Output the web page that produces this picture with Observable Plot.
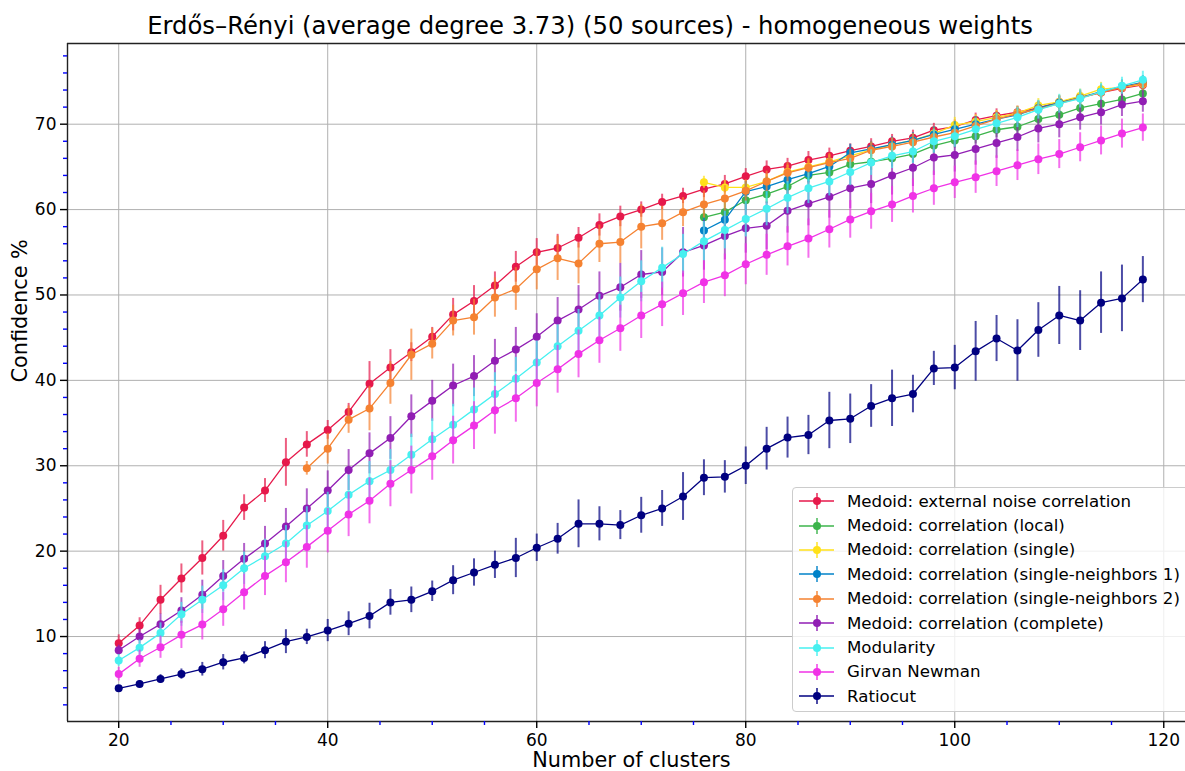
<!DOCTYPE html>
<html><head><meta charset="utf-8">
<script src="https://cdn.jsdelivr.net/npm/d3@7"></script>
<script src="https://cdn.jsdelivr.net/npm/@observablehq/plot@0.6"></script>
<style>
body{margin:0;background:#fff;font-family:"DejaVu Sans",sans-serif;}
#wrap{position:relative;width:1185px;height:771px;overflow:hidden;background:#fff;}
#title{height:41px;width:1180px;text-align:center;font-size:24.3px;line-height:1;padding-top:0;box-sizing:border-box;}
#title span{display:inline-block;margin-top:14px;}
#chart svg{display:block;}
#legend{position:absolute;left:792px;top:487px;width:420px;height:225px;box-sizing:border-box;background:rgba(255,255,255,0.8);border:1px solid #cccccc;border-radius:4px;padding-top:1px;}
.row{display:flex;align-items:center;height:24.4px;font-size:16.65px;color:#000;white-space:nowrap;}
.row svg{flex:none;}
</style></head><body>
<div id="wrap">
<div id="title"><span>Erdős–Rényi (average degree 3.73) (50 sources) - homogeneous weights</span></div>
<div id="chart"></div>
<div id="legend"></div>
</div>
<script>
// ---- x values ----
const xAll = [20,22,24,26,28,30,32,34,36,38,40,42,44,46,48,50,52,54,56,58,60,62,64,66,68,70,72,74,76,78,80,82,84,86,88,90,92,94,96,98,100,102,104,106,108,110,112,114,116,118];
const xFrom38 = [38,40,42,44,46,48,50,52,54,56,58,60,62,64,66,68,70,72,74,76,78,80,82,84,86,88,90,92,94,96,98,100,102,104,106,108,110,112,114,116,118];
const xFrom76 = [76,78,80,82,84,86,88,90,92,94,96,98,100,102,104,106,108,110,112,114,116,118];

// ---- series names & colours ----
const seriesNames = [
  "Medoid: external noise correlation",
  "Medoid: correlation (local)",
  "Medoid: correlation (single)",
  "Medoid: correlation (single-neighbors 1)",
  "Medoid: correlation (single-neighbors 2)",
  "Medoid: correlation (complete)",
  "Modularity",
  "Girvan Newman",
  "Ratiocut"
];
const seriesColors = ["#e6194b","#3cb44b","#ffe119","#0082c8","#f58231","#911eb4","#46f0f0","#f032e6","#000080"];

// ---- values (mean) ----
const externalNoise = [9.2,11.3,14.3,16.8,19.2,21.8,25.1,27.1,30.4,32.5, 34.2,36.3,39.6,41.5,43.3,45.1,47.7,49.3,51.1,53.3, 55.0,55.5,56.7,58.2,59.2,60.0,60.9,61.6,62.4,63.0, 63.9,64.7,65.1,65.8,66.3,66.9,67.4,68.0,68.4,69.3, 69.7,70.5,71.0,71.4,71.9,72.6,73.1,73.7,74.2,74.6];
const corrLocal = [59.1,59.7,61.1,61.8,62.7,64.0,64.35,65.3,65.6,66.0,66.5,67.5,68.1,68.6,69.35,69.7,70.6,71.1,71.9,72.4,72.9,73.6];
const corrSingle = [63.2,62.6,62.6,63.3,64.4,65.0,65.6,66.3,67.0,67.6,68.1,68.9,69.9,70.3,70.8,71.3,72.2,72.6,73.3,74.1,74.3,74.7];
const corrSN1 = [57.55,58.8,62.1,62.7,63.5,64.2,65.05,66.65,67.1,67.6,68.1,68.8,69.4,70.0,70.6,71.1,71.9,72.5,73.1,73.8,74.4,74.9];
const corrSN2 = [29.7,32.0,35.4,36.7,39.7,43.0,44.3,47.0,47.4,49.7, 50.7,53.0,54.3,53.7,56.0,56.2,58.0,58.4,59.7,60.6, 61.3,62.2,63.3,64.3,64.9,65.5,66.0,66.95,67.4,67.9, 68.5,69.0,69.8,70.6,71.2,71.8,72.4,73.1,73.7,74.3,74.8];
const corrComplete = [8.4,10.0,11.45,13.05,14.9,17.1,19.1,20.9,22.9,25.0, 27.1,29.5,31.45,33.25,35.8,37.6,39.4,40.5,42.3,43.6, 45.1,47.0,48.3,49.9,50.9,52.4,52.7,55.0,55.8,56.9, 57.8,58.1,59.85,60.7,61.5,62.5,63.0,64.0,64.9,66.1, 66.4,67.1,67.8,68.5,69.5,70.0,70.8,71.4,72.3,72.7];
const modularity = [7.2,8.7,10.4,12.6,14.3,16.0,18.0,19.4,20.9,23.0, 24.7,26.6,28.2,29.5,31.3,33.1,34.8,36.6,38.4,40.2, 42.1,44.0,45.8,47.6,49.7,51.6,53.2,54.8,56.3,57.6, 58.9,60.1,61.4,62.5,63.3,64.4,65.5,66.3,66.8,68.0, 68.6,69.4,70.1,70.8,71.7,72.4,73.0,73.8,74.5,75.2];
const girvanNewman = [5.6,7.4,8.75,10.2,11.4,13.2,15.2,17.1,18.7,20.5, 22.4,24.3,25.9,27.9,29.5,31.1,33.0,34.7,36.5,37.9, 39.7,41.3,43.1,44.7,46.1,47.6,48.9,50.2,51.5,52.3, 53.6,54.7,55.7,56.6,57.7,58.85,59.8,60.6,61.6,62.5, 63.2,63.8,64.5,65.2,65.9,66.5,67.3,68.1,68.9,69.6];
const ratiocut = [3.94,4.45,5.04,5.6,6.17,6.99,7.5,8.4,9.4,9.96, 10.7,11.5,12.4,14.0,14.3,15.3,16.6,17.5,18.4,19.2, 20.4,21.45,23.2,23.2,23.05,24.2,25.0,26.4,28.6,28.7, 30.0,32.0,33.3,33.6,35.3,35.5,37.0,37.9,38.4,41.4, 41.5,43.4,44.9,43.5,45.9,47.6,47.0,49.1,49.6,51.8];

// ---- error half-widths ----
const externalNoiseErr = [1.0,0.9,1.7,1.7,2.0,1.8,1.5,1.4,2.8,1.5, 1.1,1.0,2.6,2.1,1.1,1.1,1.9,1.8,1.6,1.8, 1.6,1.6,1.2,1.3,1.2,0.9,0.9,0.9,1.0,1.0, 0.9,1.0,0.9,1.0,0.9,0.8,0.9,0.8,0.9,0.8, 0.8,0.8,0.8,0.7,0.7,0.7,0.7,0.7,0.7,0.7];
const corrLocalErr = [1.3,1.2,1.2,1.1,1.1,1.0,1.0,1.0,1.0,1.0,1.0,0.9,0.9,0.9,0.9,0.9,0.8,0.8,0.8,0.8,0.8,0.8];
const corrSingleErr = [0.7,0.8,0.8,0.8,0.8,0.8,0.8,0.8,0.8,0.8,0.8,0.8,0.9,0.8,0.8,0.8,0.8,0.8,0.8,0.8,0.8,0.8];
const corrSN1Err = [1.5,1.3,1.2,1.1,1.1,1.0,1.0,1.0,0.9,0.9,0.9,0.9,0.9,0.9,0.8,0.8,0.8,0.8,0.8,0.8,0.8,0.8];
const corrSN2Err = [0.8,1.8,1.6,2.6,2.5,3.0,1.8,1.8,2.1,2.3, 2.5,2.4,2.6,2.4,2.2,2.5,2.6,2.0,1.7,1.6, 1.5,1.3,1.2,1.2,1.1,1.1,1.0,1.0,1.0,1.0, 1.0,0.9,0.9,0.9,0.9,0.9,0.9,0.9,0.8,0.8,0.8];
const corrCompleteErr = [0.6,0.9,1.2,1.5,1.7,1.8,1.8,2.0,2.1,2.3, 2.3,2.4,2.4,2.5,2.5,2.4,2.5,2.4,2.5,2.6, 2.7,2.7,2.8,2.8,2.8,2.8,2.8,2.9,2.9,2.8, 2.9,2.8,2.6,2.6,2.5,2.4,2.3,2.3,2.2,2.1, 2.0,1.9,1.8,1.7,1.7,1.6,1.5,1.5,1.4,1.3];
const modularityErr = [0.7,0.9,1.2,1.4,1.6,1.8,1.9,2.0,2.1,2.2, 2.2,2.3,2.3,2.4,2.4,2.4,2.4,2.5,2.5,2.5, 2.5,2.5,2.5,2.5,2.4,2.4,2.4,2.3,2.3,2.2, 2.1,2.0,1.9,1.8,1.7,1.6,1.5,1.5,1.4,1.4, 1.3,1.3,1.2,1.2,1.1,1.1,1.1,1.0,1.0,1.0];
const girvanNewmanErr = [0.8,1.0,1.3,1.6,1.8,2.0,2.1,2.3,2.4,2.5, 2.6,2.6,2.7,2.7,2.8,2.8,2.8,2.8,2.8,2.8, 2.8,2.8,2.8,2.7,2.7,2.7,2.6,2.6,2.5,2.5, 2.4,2.4,2.3,2.3,2.2,2.2,2.1,2.1,2.0,2.0, 1.9,1.9,1.8,1.8,1.8,1.7,1.7,1.7,1.7,1.6];
const ratiocutErr = [0.3,0.4,0.5,0.6,0.8,0.9,0.7,1.0,1.4,0.9, 1.3,1.4,1.5,1.5,1.5,1.2,1.7,1.6,1.6,2.3, 1.6,1.8,2.8,2.0,1.7,2.1,2.1,2.8,2.1,1.9, 2.2,2.5,2.4,2.3,3.3,2.9,2.5,3.3,2.2,2.0, 2.6,3.5,2.7,3.6,3.2,3.4,3.5,3.6,3.9,2.7];

// ---- tick values ----
const xMajorTicks = [20,40,60,80,100,120];
const xMinorTicks = [25,30,35,45,50,55,65,70,75,85,90,95,105,110,115];
const yMajorTicks = [10,20,30,40,50,60,70];
const yMinorTicks = [2,4,6,8,12,14,16,18,22,24,26,28,32,34,36,38,42,44,46,48,52,54,56,58,62,64,66,68,72,74,76,78];

const seriesX = [xAll, xFrom76, xFrom76, xFrom76, xFrom38, xAll, xAll, xAll, xAll];
const seriesY = [externalNoise, corrLocal, corrSingle, corrSN1, corrSN2, corrComplete, modularity, girvanNewman, ratiocut];
const seriesE = [externalNoiseErr, corrLocalErr, corrSingleErr, corrSN1Err, corrSN2Err, corrCompleteErr, modularityErr, girvanNewmanErr, ratiocutErr];

const tables = seriesNames.map((name, i) =>
  seriesX[i].map((x, j) => ({x, y: seriesY[i][j], lo: seriesY[i][j] - seriesE[i][j], hi: seriesY[i][j] + seriesE[i][j]}))
);

const xDomain = [15.1, 122.08];
const yDomain = [0.05, 79.45];

const marks = [
  Plot.gridX(xMajorTicks, {stroke: "#b0b0b0", strokeOpacity: 1, strokeWidth: 1}),
  Plot.gridY(yMajorTicks, {stroke: "#b0b0b0", strokeOpacity: 1, strokeWidth: 1}),
];
tables.forEach((t, i) => {
  const c = seriesColors[i];
  marks.push(Plot.ruleX(t, {x: "x", y1: "lo", y2: "hi", stroke: c, strokeOpacity: 0.7, strokeWidth: 2}));
  marks.push(Plot.line(t, {x: "x", y: "y", stroke: c, strokeWidth: 1.3}));
  marks.push(Plot.dot(t, {x: "x", y: "y", fill: c, r: 4}));
});
marks.push(
  Plot.ruleX([xDomain[0]], {stroke: "#222", strokeWidth: 1.4}),
  Plot.ruleY([yDomain[0], yDomain[1]], {stroke: "#222", strokeWidth: 1.4}),
  Plot.axisX(xMinorTicks, {tickSize: 4, stroke: "#0000ff", strokeWidth: 1.4, tickFormat: () => "", label: null}),
  Plot.axisY(yMinorTicks, {tickSize: 4, stroke: "#0000ff", strokeWidth: 1.4, tickFormat: () => "", label: null}),
  Plot.axisX(xMajorTicks, {tickSize: 7, tickPadding: 5, stroke: "#000", strokeWidth: 1.4, fill: "#000", fontSize: 17, label: null, tickFormat: d => String(d)}),
  Plot.axisY(yMajorTicks, {tickSize: 7, tickPadding: 4, stroke: "#000", strokeWidth: 1.4, fill: "#000", fontSize: 17, label: null, tickFormat: d => String(d)}),
  Plot.text(["Number of clusters"], {frameAnchor: "bottom", dx: 5, dy: 39, fontSize: 20.8, lineAnchor: "middle", fill: "#000"}),
  Plot.text(["Confidence %"], {frameAnchor: "left", dx: -47, rotate: -90, fontSize: 20.8, lineAnchor: "middle", fill: "#000"})
);

const chart = Plot.plot({
  width: 1185,
  height: 730,
  marginLeft: 67,
  marginRight: 0,
  marginTop: 2,
  marginBottom: 50,
  style: {fontFamily: "DejaVu Sans", fontSize: "17px", background: "white", overflow: "visible"},
  x: {domain: xDomain, label: null},
  y: {domain: yDomain, label: null},
  marks
});
document.getElementById("chart").appendChild(chart);

// ---- legend ----
const legend = document.getElementById("legend");
seriesNames.forEach((name, i) => {
  const c = seriesColors[i];
  const row = document.createElement("div");
  row.className = "row";
  row.innerHTML = `<svg width="54" height="24"><line x1="6" x2="41" y1="12" y2="12" stroke="${c}" stroke-width="1.5"/><line x1="24" x2="24" y1="4" y2="20" stroke="${c}" stroke-opacity="0.7" stroke-width="2"/><circle cx="24" cy="12" r="4" fill="${c}"/></svg><span>${name}</span>`;
  legend.appendChild(row);
});
</script>
</body></html>
